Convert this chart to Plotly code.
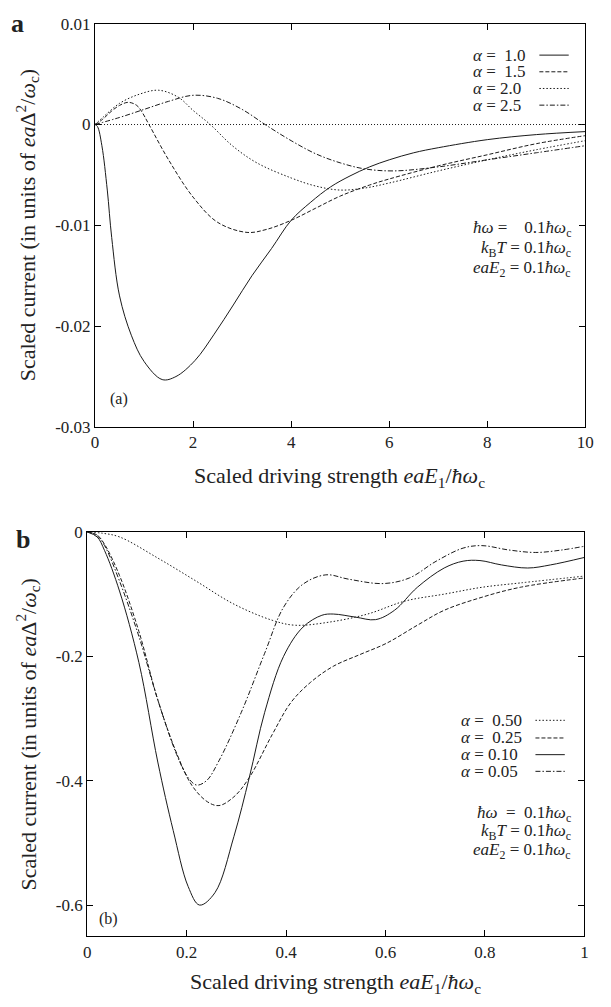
import plotly.graph_objects as go

W, H = 611, 1007
SERIF = "Liberation Serif, Times New Roman, serif"

# ---------------- panel (a) data ----------------
a_labels = ["1.0", "1.5", "2.0", "2.5"]
a_x_10 = [0, 0.05, 0.14, 0.25, 0.34, 0.5, 0.74, 1.0, 1.37, 1.65, 2.04, 2.43, 2.82, 3.2, 3.6, 4.0, 4.4, 4.8, 5.2, 5.6, 6.0, 6.5, 7.0, 8.0, 9.0, 10]
a_y_10 = [0, -0.0002, -0.0021, -0.0065, -0.0112, -0.017, -0.0209, -0.0235, -0.0253, -0.025, -0.0234, -0.0208, -0.0179, -0.015, -0.0123, -0.0095, -0.0077, -0.0062, -0.0051, -0.0042, -0.0035, -0.0028, -0.0023, -0.0015, -0.0010, -0.0007]
a_x_15 = [0, 0.15, 0.33, 0.5, 0.68, 0.85, 0.95, 1.1, 1.5, 2.0, 2.5, 3.1, 3.5, 4.0, 4.5, 5.0, 5.6, 6.0, 7.0, 8.0, 9.0, 10]
a_y_15 = [0, 0.0005, 0.0013, 0.0019, 0.0022, 0.0019, 0.0013, 0.0, -0.0035, -0.0072, -0.0097, -0.0107, -0.0104, -0.0095, -0.0083, -0.0071, -0.006, -0.0054, -0.0041, -0.003, -0.0019, -0.0011]
a_x_20 = [0, 0.18, 0.5, 0.9, 1.3, 1.7, 2.0, 2.35, 2.8, 3.3, 4.0, 4.5, 5.0, 5.5, 6.0, 7.0, 8.0, 9.0, 10]
a_y_20 = [0, 0.0008, 0.0021, 0.003, 0.0034, 0.0027, 0.0014, 0.0, -0.0021, -0.0038, -0.0053, -0.0061, -0.0065, -0.0063, -0.0058, -0.0046, -0.0035, -0.0025, -0.0016]
a_x_25 = [0, 0.5, 1.0, 1.5, 2.0, 2.5, 3.0, 3.5, 4.0, 4.5, 5.0, 5.5, 6.1, 7.0, 8.0, 9.0, 10]
a_y_25 = [0, 0.0007, 0.0015, 0.0023, 0.0029, 0.0026, 0.0015, -0.0001, -0.0016, -0.0029, -0.0038, -0.0044, -0.0046, -0.0042, -0.0035, -0.0028, -0.0021]

a_xticks = [0, 2, 4, 6, 8, 10]
a_xticktext = ["0", "2", "4", "6", "8", "10"]
a_yticks = [0.01, 0, -0.01, -0.02, -0.03]
a_yticktext = ["0.01", "0", "-0.01", "-0.02", "-0.03"]

# ---------------- panel (b) data ----------------
b_labels = ["0.50", "0.25", "0.10", "0.05"]
b_x_050 = [0, 0.03, 0.065, 0.142, 0.219, 0.295, 0.372, 0.418, 0.487, 0.564, 0.64, 0.718, 0.794, 0.871, 1.0]
b_y_050 = [0, -0.002, -0.008, -0.042, -0.079, -0.116, -0.142, -0.15, -0.145, -0.132, -0.111, -0.1, -0.089, -0.082, -0.071]
b_x_025 = [0, 0.02, 0.035, 0.065, 0.104, 0.142, 0.18, 0.211, 0.242, 0.265, 0.295, 0.326, 0.372, 0.41, 0.449, 0.495, 0.549, 0.602, 0.664, 0.718, 0.794, 0.871, 1.0]
b_y_025 = [0, -0.005, -0.02, -0.07, -0.16, -0.27, -0.356, -0.408, -0.434, -0.44, -0.426, -0.395, -0.326, -0.274, -0.242, -0.216, -0.197, -0.179, -0.15, -0.126, -0.105, -0.089, -0.074]
b_x_010 = [0, 0.02, 0.035, 0.065, 0.104, 0.142, 0.173, 0.203, 0.226, 0.257, 0.295, 0.326, 0.357, 0.395, 0.434, 0.472, 0.495, 0.54, 0.58, 0.618, 0.664, 0.718, 0.756, 0.79, 0.833, 0.886, 0.932, 1.0]
b_y_010 = [0, -0.008, -0.03, -0.095, -0.21, -0.37, -0.48, -0.57, -0.6, -0.58, -0.49, -0.395, -0.29, -0.2, -0.153, -0.134, -0.132, -0.137, -0.141, -0.126, -0.089, -0.058, -0.047, -0.046, -0.053, -0.058, -0.053, -0.041]
b_x_005 = [0, 0.02, 0.035, 0.065, 0.104, 0.142, 0.18, 0.203, 0.22, 0.24, 0.265, 0.31, 0.357, 0.395, 0.434, 0.48, 0.526, 0.595, 0.648, 0.702, 0.756, 0.794, 0.848, 0.902, 0.955, 1.0]
b_y_005 = [0, -0.006, -0.022, -0.079, -0.168, -0.27, -0.358, -0.395, -0.407, -0.4, -0.368, -0.29, -0.195, -0.121, -0.084, -0.069, -0.076, -0.083, -0.074, -0.047, -0.026, -0.022, -0.029, -0.033, -0.029, -0.023]

b_xticks = [0, 0.2, 0.4, 0.6, 0.8, 1.0]
b_xticktext = ["0", "0.2", "0.4", "0.6", "0.8", "1"]
b_yticks = [0, -0.2, -0.4, -0.6]
b_yticktext = ["0", "-0.2", "-0.4", "-0.6"]

# ---------------- styles ----------------
LC = "#1a1a1a"
TC = "#222222"
DASH_SOLID = "solid"
DASH_DASH = "4px,2px"
DASH_DOT = "1.5px,2px"
DASH_DASHDOT = "5px,2px,1.5px,2px"

a_series = [(a_x_10, a_y_10, DASH_SOLID), (a_x_15, a_y_15, DASH_DASH),
            (a_x_20, a_y_20, DASH_DOT), (a_x_25, a_y_25, DASH_DASHDOT)]
b_series = [(b_x_050, b_y_050, DASH_DOT), (b_x_025, b_y_025, DASH_DASH),
            (b_x_010, b_y_010, DASH_SOLID), (b_x_005, b_y_005, DASH_DASHDOT)]

fig = go.Figure()
for (xs, ys, d), lab in zip(a_series, a_labels):
    fig.add_trace(go.Scatter(x=xs, y=ys, mode="lines", name="α = " + lab,
                             line=dict(color=LC, width=1, dash=d, shape="spline", smoothing=1.0),
                             xaxis="x", yaxis="y", showlegend=False))
for (xs, ys, d), lab in zip(b_series, b_labels):
    fig.add_trace(go.Scatter(x=xs, y=ys, mode="lines", name="α = " + lab,
                             line=dict(color=LC, width=1, dash=d, shape="spline", smoothing=1.0),
                             xaxis="x2", yaxis="y2", showlegend=False))

def px(x):
    return x / W

def py(y):
    return 1 - y / H

axis_common = dict(showline=True, linecolor="black", linewidth=1, mirror="ticks",
                   ticks="inside", ticklen=6, tickcolor="black", showgrid=False,
                   zeroline=False, tickfont=dict(family=SERIF, size=17, color=TC))

fig.update_layout(
    width=W, height=H, margin=dict(l=0, r=0, t=0, b=0),
    paper_bgcolor="white", plot_bgcolor="white",
    xaxis=dict(domain=[px(93), px(594)], range=[0, 10], anchor="y",
               tickvals=a_xticks, ticktext=a_xticktext, **axis_common),
    yaxis=dict(domain=[py(426), py(15)], range=[-0.03, 0.01], anchor="x",
               tickvals=a_yticks, ticktext=a_yticktext, **axis_common),
    xaxis2=dict(domain=[px(85), px(593)], range=[0, 1], anchor="y2",
                tickvals=b_xticks, ticktext=b_xticktext, **axis_common),
    yaxis2=dict(domain=[py(945), py(533)], range=[-0.65, 0], anchor="x2",
                tickvals=b_yticks, ticktext=b_yticktext, **axis_common),
    showlegend=False,
)

# zero line (dotted) in panel a
fig.add_shape(type="line", xref="x domain", yref="y", x0=0, x1=1, y0=0, y1=0,
              line=dict(color=LC, width=1, dash="1px,2px"))

ann = []
def text(x, y, s, size=15, xanchor="left", yanchor="middle", **kw):
    ann.append(dict(x=px(x), y=py(y), xref="paper", yref="paper", text=s, showarrow=False,
                    xanchor=xanchor, yanchor=yanchor,
                    font=dict(family=SERIF, size=size, color=TC), **kw))

NB = "\u00a0"
# panel letters
text(14, 15, "<b>a</b>", size=26, xanchor="center")
text(19, 541, "<b>b</b>", size=26, xanchor="center")

# axis titles
ytitle = "Scaled current (in units of <i>ea</i>Δ<sup>2</sup>/<i>ω</i><sub>c</sub>)"
xtitle = "Scaled driving strength <i>eaE</i><sub>1</sub>/<i>ħω</i><sub>c</sub>"
text(24, 220, ytitle, size=22, xanchor="center", textangle=-90)
text(343, 477, xtitle, size=22, xanchor="center")
text(24, 739, ytitle, size=22, xanchor="center", textangle=-90)
text(339, 993, xtitle, size=22, xanchor="center")

# panel labels
text(117, 397, "(a)", size=16, xanchor="center")
text(107, 927, "(b)", size=16, xanchor="center")

# legend (gnuplot style: text then sample)
a_leg_y = [47, 64, 81, 98]
a_leg_txt = ["<i>α</i> =" + NB * 2 + "1.0", "<i>α</i> =" + NB * 2 + "1.5",
             "<i>α</i> = 2.0", "<i>α</i> = 2.5"]
for yy, s, (_, _, d) in zip(a_leg_y, a_leg_txt, a_series):
    text(477, yy, s, size=17)
    fig.add_shape(type="line", xref="paper", yref="paper", x0=px(547), x1=px(577),
                  y0=py(yy), y1=py(yy), line=dict(color=LC, width=1, dash=d))

b_leg_y = [725, 743, 760, 777]
b_leg_txt = ["<i>α</i> =" + NB * 2 + "0.50", "<i>α</i> =" + NB * 2 + "0.25",
             "<i>α</i> = 0.10", "<i>α</i> = 0.05"]
for yy, s, (_, _, d) in zip(b_leg_y, b_leg_txt, b_series):
    text(465, yy, s, size=17)
    fig.add_shape(type="line", xref="paper", yref="paper", x0=px(543), x1=px(573),
                  y0=py(yy), y1=py(yy), line=dict(color=LC, width=1, dash=d))

# parameters
params_a = ["<i>ħω</i> =" + NB * 4 + "0.1<i>ħω</i><sub>c</sub>",
            "<i>k</i><sub>B</sub><i>T</i> = 0.1<i>ħω</i><sub>c</sub>",
            "<i>eaE</i><sub>2</sub> = 0.1<i>ħω</i><sub>c</sub>"]
for yy, s in zip([224, 245, 265], params_a):
    text(581, yy, s, size=17, xanchor="right")
params_b = ["<i>ħω</i>" + NB * 2 + "=" + NB * 2 + "0.1<i>ħω</i><sub>c</sub>",
            "<i>k</i><sub>B</sub><i>T</i> = 0.1<i>ħω</i><sub>c</sub>",
            "<i>eaE</i><sub>2</sub> = 0.1<i>ħω</i><sub>c</sub>"]
for yy, s in zip([820, 839, 858], params_b):
    text(581, yy, s, size=17, xanchor="right")

fig.update_layout(annotations=ann)
fig.write_html("out.html", config={"displayModeBar": False},
               post_script="document.body.style.margin='0';document.body.style.padding='0';")
